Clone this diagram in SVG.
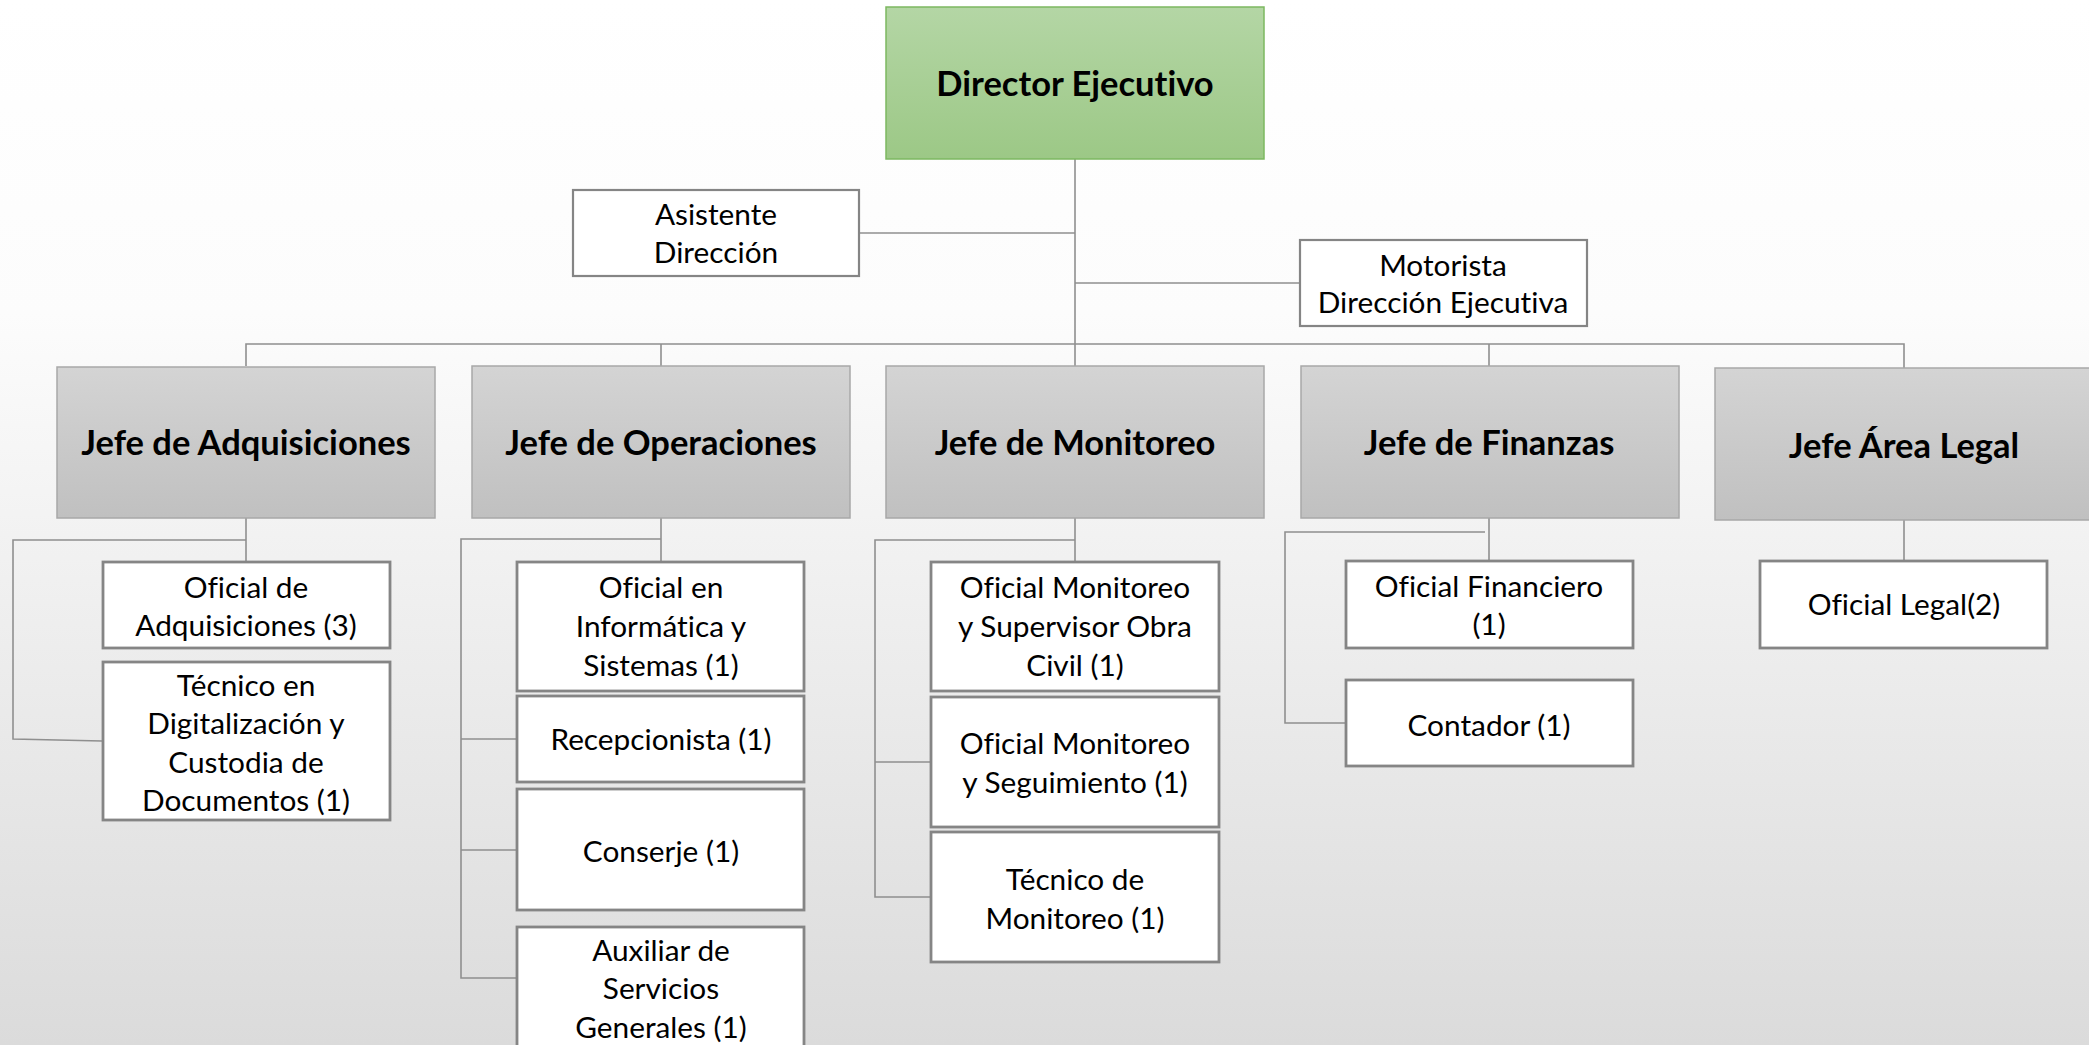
<svg xmlns="http://www.w3.org/2000/svg" width="2089" height="1045" viewBox="0 0 2089 1045">
<defs>
<linearGradient id="bg" x1="0" y1="0" x2="0" y2="1">
<stop offset="0" stop-color="#ffffff"/>
<stop offset="0.3" stop-color="#fcfcfc"/>
<stop offset="1" stop-color="#dbdbdb"/>
</linearGradient>
<linearGradient id="green" x1="0" y1="0" x2="0" y2="1">
<stop offset="0" stop-color="#b4d6a5"/>
<stop offset="1" stop-color="#9cc886"/>
</linearGradient>
<linearGradient id="gray" x1="0" y1="0" x2="0" y2="1">
<stop offset="0" stop-color="#d4d4d4"/>
<stop offset="1" stop-color="#c0c0c0"/>
</linearGradient>
<style>
.conn{fill:none;stroke:#8f8f8f;stroke-width:1.6}
.dir{fill:url(#green);stroke:#7cb860;stroke-width:1.5}
.head{fill:url(#gray);stroke:#a8a8a8;stroke-width:1.5}
.box{fill:#ffffff;stroke:#858585;stroke-width:2.8}
text{font-family:Lato,"Liberation Sans",sans-serif;text-anchor:middle;fill:#000;font-variant-ligatures:none}
.t{font-size:29.8px}
.b{font-size:34.5px;font-weight:bold}
</style>
</defs>
<rect x="0" y="0" width="2089" height="1045" fill="url(#bg)"/>
<g id="connectors">
<path class="conn" d="M1075 159V366"/>
<path class="conn" d="M859 233H1075"/>
<path class="conn" d="M1075 283H1300"/>
<path class="conn" d="M246 366V344H1904V368"/>
<path class="conn" d="M661 344V366"/>
<path class="conn" d="M1489 344V366"/>
<path class="conn" d="M246 518V561"/>
<path class="conn" d="M246 540H13V739L102 741"/>
<path class="conn" d="M661 518V561"/>
<path class="conn" d="M661 539H461V978H517"/>
<path class="conn" d="M461 739H517"/>
<path class="conn" d="M461 850H517"/>
<path class="conn" d="M1075 518V561"/>
<path class="conn" d="M1075 540H875V897H931"/>
<path class="conn" d="M875 762H931"/>
<path class="conn" d="M1489 518V561"/>
<path class="conn" d="M1485 532H1285V723H1346"/>
<path class="conn" d="M1904 520V561"/>
</g>
<g id="director">
<rect class="dir" x="886" y="7" width="378" height="152"/>
<text class="b" x="1075" y="96">Director Ejecutivo</text>
</g>
<g id="asistente">
<rect class="box" x="573" y="190" width="286" height="86" style="stroke-width:2.2"/>
<text class="t" x="716" y="225">Asistente</text>
<text class="t" x="716" y="263">Dirección</text>
</g>
<g id="motorista">
<rect class="box" x="1300" y="240" width="287" height="86" style="stroke-width:2.2"/>
<text class="t" x="1443" y="276">Motorista</text>
<text class="t" x="1443" y="313">Dirección Ejecutiva</text>
</g>
<g id="jefe-adquisiciones">
<rect class="head" x="57" y="367" width="378" height="151"/>
<text class="b" x="246" y="455">Jefe de Adquisiciones</text>
</g>
<g id="jefe-operaciones">
<rect class="head" x="472" y="366" width="378" height="152"/>
<text class="b" x="661" y="455">Jefe de Operaciones</text>
</g>
<g id="jefe-monitoreo">
<rect class="head" x="886" y="366" width="378" height="152"/>
<text class="b" x="1075" y="455">Jefe de Monitoreo</text>
</g>
<g id="jefe-finanzas">
<rect class="head" x="1301" y="366" width="378" height="152"/>
<text class="b" x="1489" y="455">Jefe de Finanzas</text>
</g>
<g id="jefe-legal">
<rect class="head" x="1715" y="368" width="380" height="152"/>
<text class="b" x="1904" y="458">Jefe Área Legal</text>
</g>
<g id="oficial-adquisiciones">
<rect class="box" x="103" y="562" width="287" height="86"/>
<text class="t" x="246" y="598">Oficial de</text>
<text class="t" x="246" y="636">Adquisiciones (3)</text>
</g>
<g id="tecnico-digitalizacion">
<rect class="box" x="103" y="662" width="287" height="158"/>
<text class="t" x="246" y="696">Técnico en</text>
<text class="t" x="246" y="734">Digitalización y</text>
<text class="t" x="246" y="773">Custodia de</text>
<text class="t" x="246" y="811">Documentos (1)</text>
</g>
<g id="oficial-informatica">
<rect class="box" x="517" y="562" width="287" height="129"/>
<text class="t" x="661" y="598">Oficial en</text>
<text class="t" x="661" y="637">Informática y</text>
<text class="t" x="661" y="676">Sistemas (1)</text>
</g>
<g id="recepcionista">
<rect class="box" x="517" y="696" width="287" height="86"/>
<text class="t" x="661" y="750">Recepcionista (1)</text>
</g>
<g id="conserje">
<rect class="box" x="517" y="789" width="287" height="121"/>
<text class="t" x="661" y="862">Conserje (1)</text>
</g>
<g id="auxiliar">
<rect class="box" x="517" y="927" width="287" height="130"/>
<text class="t" x="661" y="961">Auxiliar de</text>
<text class="t" x="661" y="999">Servicios</text>
<text class="t" x="661" y="1038">Generales (1)</text>
</g>
<g id="oficial-monitoreo-supervisor">
<rect class="box" x="931" y="562" width="288" height="129"/>
<text class="t" x="1075" y="598">Oficial Monitoreo</text>
<text class="t" x="1075" y="637">y Supervisor Obra</text>
<text class="t" x="1075" y="676">Civil (1)</text>
</g>
<g id="oficial-monitoreo-seguimiento">
<rect class="box" x="931" y="697" width="288" height="130"/>
<text class="t" x="1075" y="754">Oficial Monitoreo</text>
<text class="t" x="1075" y="793">y Seguimiento (1)</text>
</g>
<g id="tecnico-monitoreo">
<rect class="box" x="931" y="832" width="288" height="130"/>
<text class="t" x="1075" y="890">Técnico de</text>
<text class="t" x="1075" y="929">Monitoreo (1)</text>
</g>
<g id="oficial-financiero">
<rect class="box" x="1346" y="561" width="287" height="87"/>
<text class="t" x="1489" y="597">Oficial Financiero</text>
<text class="t" x="1489" y="635">(1)</text>
</g>
<g id="contador">
<rect class="box" x="1346" y="680" width="287" height="86"/>
<text class="t" x="1489" y="736">Contador (1)</text>
</g>
<g id="oficial-legal">
<rect class="box" x="1760" y="561" width="287" height="87"/>
<text class="t" x="1904" y="615">Oficial Legal(2)</text>
</g>
</svg>
